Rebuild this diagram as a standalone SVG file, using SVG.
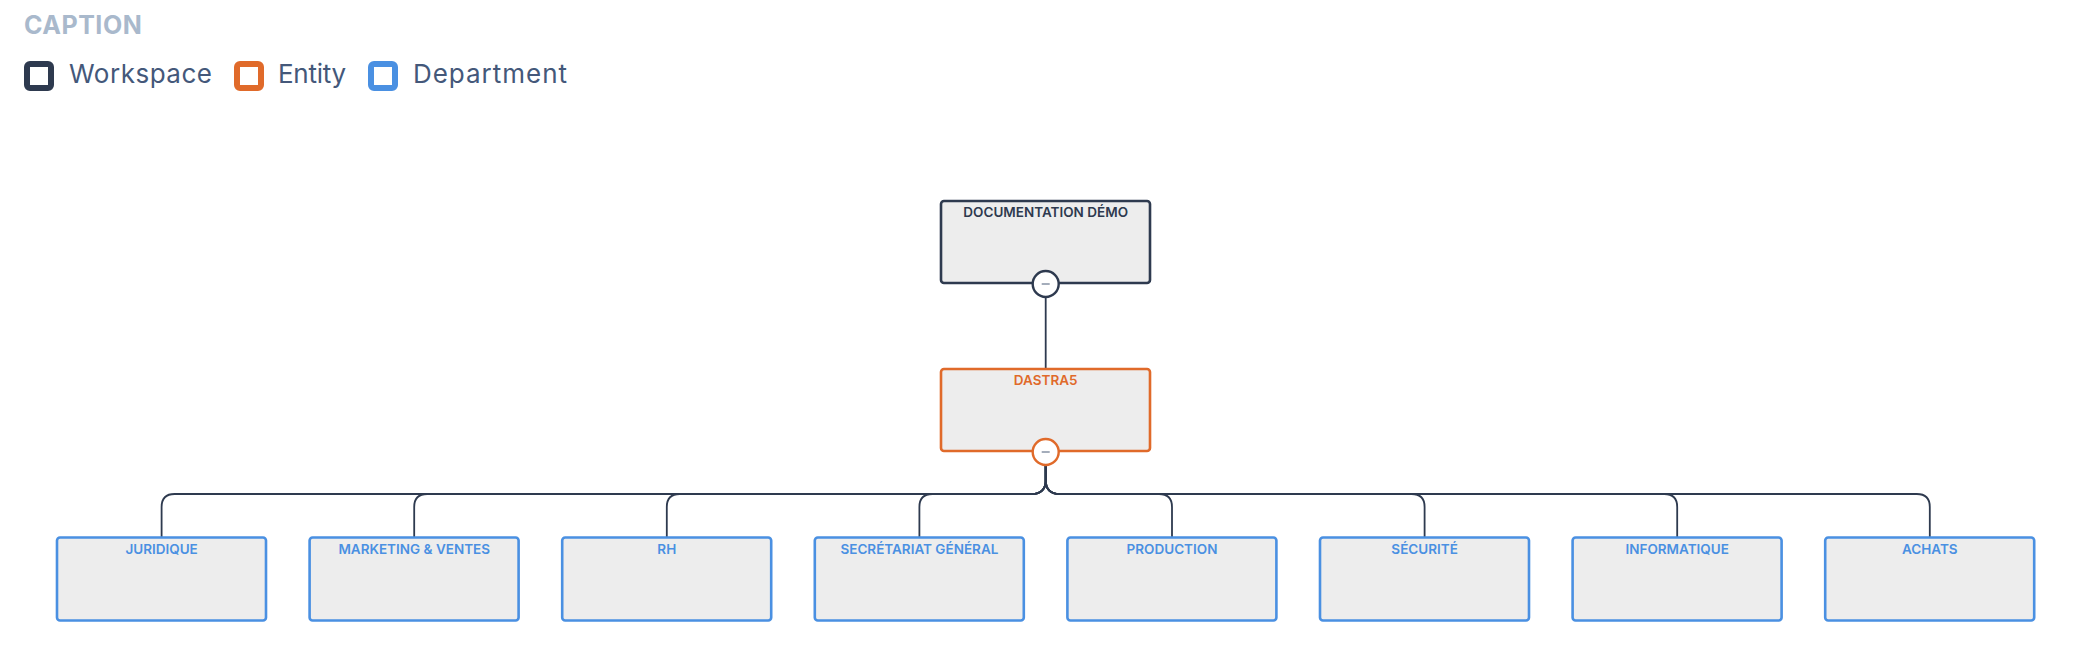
<svg xmlns="http://www.w3.org/2000/svg" width="2085" height="658" viewBox="0 0 2085 658">
<style>
.cap{font-family:Inter,"Liberation Sans",sans-serif;font-weight:700;font-size:25px;fill:#a9b9cc;letter-spacing:0.5px}
.leg{font-family:Inter,"Liberation Sans",sans-serif;font-weight:400;font-size:26px;fill:#44587a}
.lbl{font-family:Inter,"Liberation Sans",sans-serif;font-weight:600;font-size:13.5px;text-anchor:middle}
.node{fill:#ededed;stroke-width:2.6}
.ws{stroke:#2e3a4f}
.en{stroke:#e06a2a}
.dp{stroke:#4a90e2}
.tws{fill:#2e3a4f}
.ten{fill:#e06a2a}
.tdp{fill:#4a90e2}
.tog{fill:#fff;stroke-width:2.4}
.minus{stroke:#8d98aa;stroke-width:1.6}
.conn{fill:none;stroke:#2e3a4f;stroke-width:1.8}
</style>
<rect width="2085" height="658" fill="#fff"/>
<g id="caption">
<text class="cap" x="24" y="34">CAPTION</text>
<rect x="27" y="64" width="24" height="24" rx="3" fill="#fff" stroke="#2e3a4f" stroke-width="6"/>
<text class="leg" x="69" y="83" textLength="143">Workspace</text>
<rect x="237" y="64" width="24" height="24" rx="3" fill="#fff" stroke="#e06a2a" stroke-width="6"/>
<text class="leg" x="278" y="83" textLength="68">Entity</text>
<rect x="371" y="64" width="24" height="24" rx="3" fill="#fff" stroke="#4a90e2" stroke-width="6"/>
<text class="leg" x="413" y="83" textLength="154">Department</text>
</g>
<g id="connectors">
<path class="conn" d="M1045.7 297 V368"/>
<path class="conn" d="M1045.7 465 V480 Q1045.7 494 1031.7 494 H174.6 Q161.6 494 161.6 507 V537"/>
<path class="conn" d="M1045.7 465 V480 Q1045.7 494 1031.7 494 H427.2 Q414.2 494 414.2 507 V537"/>
<path class="conn" d="M1045.7 465 V480 Q1045.7 494 1031.7 494 H679.8 Q666.8 494 666.8 507 V537"/>
<path class="conn" d="M1045.7 465 V480 Q1045.7 494 1031.7 494 H932.4 Q919.4 494 919.4 507 V537"/>
<path class="conn" d="M1045.7 465 V480 Q1045.7 494 1059.7 494 H1159 Q1172 494 1172 507 V537"/>
<path class="conn" d="M1045.7 465 V480 Q1045.7 494 1059.7 494 H1411.6 Q1424.6 494 1424.6 507 V537"/>
<path class="conn" d="M1045.7 465 V480 Q1045.7 494 1059.7 494 H1664.2 Q1677.2 494 1677.2 507 V537"/>
<path class="conn" d="M1045.7 465 V480 Q1045.7 494 1059.7 494 H1916.8 Q1929.8 494 1929.8 507 V537"/>
</g>
<g id="n-workspace">
<rect class="node ws" x="941" y="201" width="209" height="82" rx="3"/>
<text class="lbl tws" x="1045.7" y="216.5">DOCUMENTATION DÉMO</text>
<circle class="tog ws" cx="1045.7" cy="284" r="13"/>
<line class="minus" x1="1041.7" y1="284" x2="1049.7" y2="284"/>
</g>
<g id="n-dastra5">
<rect class="node en" x="941" y="369" width="209" height="82" rx="3"/>
<text class="lbl ten" x="1045.7" y="385">DASTRA5</text>
<circle class="tog en" cx="1045.7" cy="452" r="13"/>
<line class="minus" x1="1041.7" y1="452" x2="1049.7" y2="452"/>
</g>
<g id="n-juridique">
<rect class="node dp" x="57" y="537.5" width="209" height="83" rx="3"/>
<text class="lbl tdp" x="161.6" y="553.5">JURIDIQUE</text>
</g>
<g id="n-marketing">
<rect class="node dp" x="309.6" y="537.5" width="209" height="83" rx="3"/>
<text class="lbl tdp" x="414.2" y="553.5">MARKETING &amp; VENTES</text>
</g>
<g id="n-rh">
<rect class="node dp" x="562.2" y="537.5" width="209" height="83" rx="3"/>
<text class="lbl tdp" x="666.8" y="553.5">RH</text>
</g>
<g id="n-secretariat">
<rect class="node dp" x="814.8" y="537.5" width="209" height="83" rx="3"/>
<text class="lbl tdp" x="919.4" y="553.5">SECRÉTARIAT GÉNÉRAL</text>
</g>
<g id="n-production">
<rect class="node dp" x="1067.4" y="537.5" width="209" height="83" rx="3"/>
<text class="lbl tdp" x="1172" y="553.5">PRODUCTION</text>
</g>
<g id="n-securite">
<rect class="node dp" x="1320" y="537.5" width="209" height="83" rx="3"/>
<text class="lbl tdp" x="1424.6" y="553.5">SÉCURITÉ</text>
</g>
<g id="n-informatique">
<rect class="node dp" x="1572.6" y="537.5" width="209" height="83" rx="3"/>
<text class="lbl tdp" x="1677.2" y="553.5">INFORMATIQUE</text>
</g>
<g id="n-achats">
<rect class="node dp" x="1825.2" y="537.5" width="209" height="83" rx="3"/>
<text class="lbl tdp" x="1929.8" y="553.5">ACHATS</text>
</g>
</svg>
